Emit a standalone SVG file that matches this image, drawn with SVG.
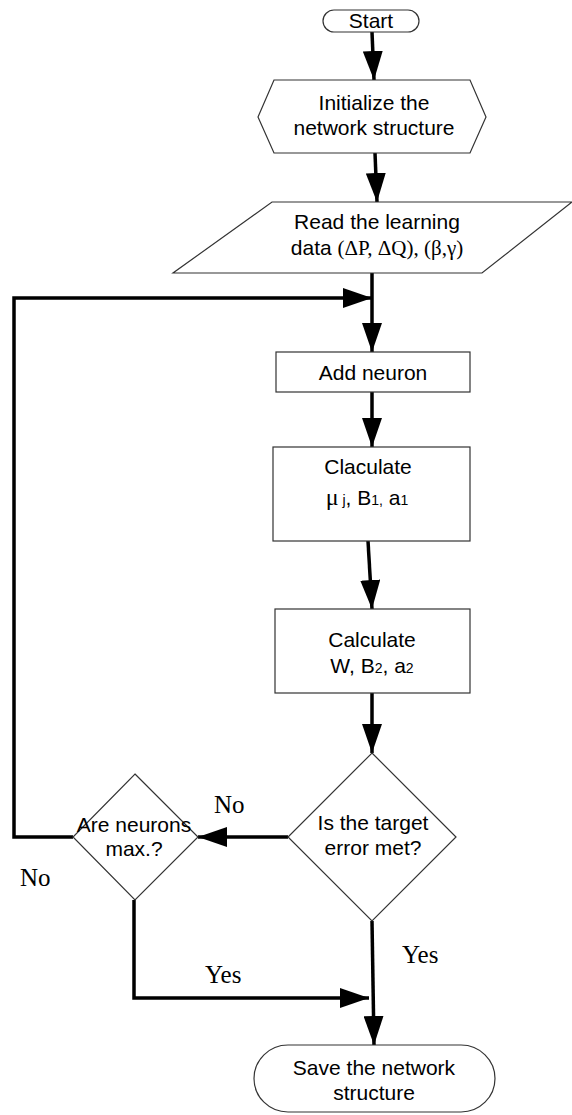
<svg xmlns="http://www.w3.org/2000/svg" width="572" height="1115" viewBox="0 0 572 1115">
<style>
.shape{fill:#fff;stroke:#333;stroke-width:1.2}
.t{font-family:"Liberation Sans",Arial,sans-serif;font-size:21px;fill:#000;text-anchor:middle}
.g{font-family:"Liberation Serif","Times New Roman",serif}
.sub{font-size:14px}
.lbl{font-family:"Liberation Serif","Times New Roman",serif;font-size:25px;fill:#000}
.c{fill:none;stroke:#000;stroke-width:3.5}
</style>
<defs>
<marker id="ah" markerUnits="userSpaceOnUse" markerWidth="30" markerHeight="20" refX="29" refY="10" orient="auto">
<path d="M0,0 L29,10 L0,20 z" fill="#000"/>
</marker>
</defs>
<rect width="572" height="1115" fill="#fff"/>
<g id="connectors">
<line class="c" x1="372" y1="32" x2="374" y2="80" marker-end="url(#ah)"/>
<line class="c" x1="375" y1="153" x2="377" y2="202" marker-end="url(#ah)"/>
<line class="c" x1="372" y1="273" x2="372" y2="352" marker-end="url(#ah)"/>
<polyline class="c" points="73,837 14,837 14,298 372,298" marker-end="url(#ah)"/>
<line class="c" x1="372" y1="392" x2="372" y2="447" marker-end="url(#ah)"/>
<line class="c" x1="368" y1="541" x2="372" y2="609" marker-end="url(#ah)"/>
<line class="c" x1="372" y1="693" x2="372" y2="753" marker-end="url(#ah)"/>
<line class="c" x1="288" y1="837" x2="198" y2="837" marker-end="url(#ah)"/>
<polyline class="c" points="134,900 134,998 369,998" marker-end="url(#ah)"/>
<line class="c" x1="372" y1="921" x2="374" y2="1045" marker-end="url(#ah)"/>
</g>
<g id="start">
<rect class="shape" x="323" y="10" width="96" height="22" rx="11"/>
<text class="t" x="371" y="28">Start</text>
</g>
<g id="init">
<polygon class="shape" points="258,117 274,80 470,80 486,117 470,153 274,153"/>
<text class="t" x="374" y="110">Initialize the</text>
<text class="t" x="374" y="135">network structure</text>
</g>
<g id="read">
<polygon class="shape" points="272,202 572,202 482,273 173,273"/>
<text class="t" x="377" y="229">Read the learning</text>
<text class="t" x="377" y="255">data <tspan class="g">(ΔP, ΔQ), (β,γ)</tspan></text>
</g>
<g id="add">
<rect class="shape" x="276" y="352" width="194" height="40"/>
<text class="t" x="373" y="380">Add neuron</text>
</g>
<g id="claculate">
<rect class="shape" x="273" y="447" width="197" height="94"/>
<text class="t" x="368" y="474">Claculate</text>
<text class="t" x="367" y="505"><tspan class="g" font-size="24">μ</tspan><tspan class="sub"> j</tspan>, B<tspan class="sub">1</tspan><tspan class="sub">,</tspan> a<tspan class="sub">1</tspan></text>
</g>
<g id="calculate">
<rect class="shape" x="275" y="609" width="195" height="84"/>
<text class="t" x="372" y="647">Calculate</text>
<text class="t" x="372" y="673">W, B<tspan class="sub">2</tspan>, a<tspan class="sub">2</tspan></text>
</g>
<g id="target">
<polygon class="shape" points="372,753 456,837 372,921 288,837"/>
<text class="t" x="373" y="830">Is the target</text>
<text class="t" x="373" y="855">error met?</text>
</g>
<g id="neurons">
<polygon class="shape" points="135,774 198,837 135,900 73,837"/>
<text class="t" x="134" y="832">Are neurons</text>
<text class="t" x="134" y="856">max.?</text>
</g>
<g id="save">
<rect class="shape" x="254" y="1045" width="241" height="67" rx="34"/>
<text class="t" x="374" y="1075">Save the network</text>
<text class="t" x="374" y="1100">structure</text>
</g>
<g id="labels">
<text class="lbl" x="214" y="813">No</text>
<text class="lbl" x="20" y="886" font-size="30">No</text>
<text class="lbl" x="205" y="983">Yes</text>
<text class="lbl" x="402" y="963">Yes</text>
</g>
</svg>
